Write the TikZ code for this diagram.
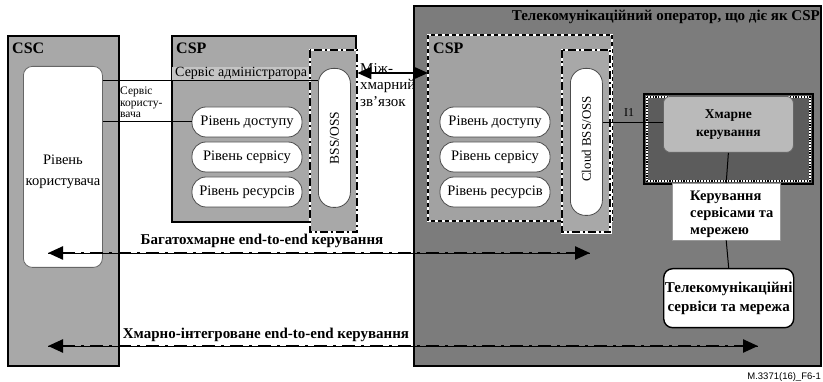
\documentclass[tikz,border=0pt]{standalone}
\usepackage{fontspec}
\setmainfont{Liberation Serif}
\newfontfamily\footfont{Liberation Sans}
\usetikzlibrary{arrows.meta,calc}
\definecolor{panelgray}{HTML}{A8A8A8}
\definecolor{opgray}{HTML}{7C7C7C}
\definecolor{innergray}{HTML}{A2A2A2}
\definecolor{cmdark}{HTML}{5C5C5C}
\definecolor{cmlight}{HTML}{BABABA}
\definecolor{bandgray}{HTML}{C4C4C4}
\tikzset{
  frame/.style={draw=black, line width=1.6pt, fill=panelgray, anchor=north west, inner sep=0pt},
  pill/.style={draw=black!70, line width=0.8pt, fill=white, rounded corners=14pt,
    minimum width=110pt, minimum height=30pt, inner sep=0pt, font=\fontsize{14.5}{14.5}\selectfont},
  vpill/.style={draw=black!70, line width=0.8pt, fill=white, rounded corners=15pt, inner sep=0pt,
    anchor=north west},
  dashdotbox/.style={fill=panelgray, anchor=north west, inner sep=0pt},
  ddborder/.style={draw=black, line width=2pt, dash pattern=on 8pt off 3pt on 2pt off 3pt},
  whiteedge/.style={draw=white, line width=2.4pt},
  lbl/.style={font=\bfseries\fontsize{16}{16}\selectfont, anchor=west, inner sep=0pt},
  link/.style={draw=black, line width=1pt},
  bigarrow/.style={line width=2.4pt, dash pattern=on 13pt off 6pt on 3pt off 6pt,
    {Triangle[length=15pt,width=13pt]}-{Triangle[length=15pt,width=13pt]}},
  thinline/.style={draw=black, line width=0.7pt},
}
\begin{document}
\begin{tikzpicture}[x=1pt,y=-1pt]
\useasboundingbox (0,0) rectangle (823,382);
\fill[white] (0,0) rectangle (823,382);

% ---------- consumer side ----------
\node[frame, minimum width=111pt, minimum height=330pt] (csc) at (7,35) {};
\node[lbl] (csclbl) at (12,48) {CSC};
\node[draw=black!60, line width=0.8pt, fill=white, rounded corners=9pt, anchor=north west,
      minimum width=79pt, minimum height=201pt, inner sep=0pt] (user) at (23,66) {};
\node[align=center, inner sep=0pt, font=\fontsize{14.5}{21}\selectfont] (userlbl)
      at (63,172) {Рівень\\користувача};

% ---------- left provider ----------
\node[frame, minimum width=184pt, minimum height=186pt] (csp) at (171,35) {};
\node[lbl] (csplbl) at (176,48) {CSP};
\node[fill=bandgray, anchor=north west, minimum width=138pt, minimum height=13pt, inner sep=0pt,
      font=\fontsize{14}{14}\selectfont] (admin) at (172,67) {Сервіс адміністратора};
\node[pill] (acc) at (247,122) {Рівень доступу};
\node[pill] (srv) at (247,157) {Рівень сервісу};
\node[pill] (res) at (247,192) {Рівень ресурсів};

\node[dashdotbox, minimum width=47pt, minimum height=182pt] (bss) at (310,50) {};
\draw[whiteedge] (bss.north west) rectangle (bss.south east);
\draw[ddborder] (bss.north west) rectangle (bss.south east);
\node[vpill, minimum width=32pt, minimum height=139pt] (bsspill) at (318,68) {};
\node[rotate=90, font=\fontsize{13.5}{13.5}\selectfont] (bsstxt) at (bsspill.center) {BSS/OSS};

% consumer-to-provider links
\draw[link] (user.east |- 0,81) -- (bsspill.west |- 0,81);
\draw[link] (user.east |- acc.west) -- (acc.west);
\node[anchor=north west, align=left, inner sep=0pt,
      font=\fontsize{11.5}{11.5}\selectfont] (usrsvc) at (120,87) {Сервіс\\користу-\\вача};

% ---------- operator ----------
\node[frame, fill=opgray, minimum width=407pt, minimum height=360pt] (op) at (413,5) {};
\node[font=\bfseries\fontsize{15}{15}\selectfont, anchor=north east, inner sep=0pt] (optitle)
      at (820,10) {Телекомунікаційний оператор, що діє як CSP};

\node[fill=innergray, anchor=north west, minimum width=184pt, minimum height=186pt, inner sep=0pt] (csp2) at (428,35) {};
\draw[draw=white, line width=2pt] (csp2.north west) rectangle (csp2.south east);
\draw[draw=black, line width=2pt, dash pattern=on 4pt off 3pt] (csp2.north west) rectangle (csp2.south east);
\node[lbl] (csp2lbl) at (433,48) {CSP};
\node[pill] (acc2) at (495,122) {Рівень доступу};
\node[pill] (srv2) at (495,157) {Рівень сервісу};
\node[pill] (res2) at (495,192) {Рівень ресурсів};

\node[dashdotbox, minimum width=48pt, minimum height=182pt] (bss2) at (562,50) {};
\draw[whiteedge] (bss2.north west) rectangle (bss2.south east);
\draw[ddborder] (bss2.north west) rectangle (bss2.south east);
\node[vpill, minimum width=32pt, minimum height=147pt] (bss2pill) at (570,68) {};
\node[rotate=90, font=\fontsize{13}{13}\selectfont] (bss2txt) at ($(bss2pill.center)+(0,-3)$) {Cloud BSS/OSS};

% inter-cloud link
\draw[line width=2pt, {Triangle[length=14pt,width=12pt]}-{Triangle[length=14pt,width=12pt]}]
     (bss.east |- 0,73) -- (csp2.west |- 0,73);
\node[anchor=north west, align=left, inner sep=0pt,
      font=\fontsize{15}{16.5}\selectfont] (icl) at (360,63) {Між-\\хмарний\\зв'язок};

% cloud management block
\node[draw=black, line width=2pt, fill=cmdark, anchor=north west, minimum width=169pt,
      minimum height=90pt, inner sep=0pt] (cm) at (643,93) {};
\draw[draw=white, line width=2.6pt] ($(cm.north west)+(4,4)$) rectangle ($(cm.south east)+(-4,-4)$);
\draw[draw=black, line width=2pt, dash pattern=on 1.2pt off 1.6pt] ($(cm.north west)+(4,4)$) rectangle ($(cm.south east)+(-4,-4)$);
\node[draw=black!60, line width=0.8pt, fill=cmlight, rounded corners=7pt, anchor=north west,
      minimum width=130pt, minimum height=56pt, inner sep=0pt, align=center,
      font=\bfseries\fontsize{13.5}{18}\selectfont] (cmin) at (663,96) {Хмарне\\керування};

\draw[link] (bss2pill.east |- 0,123) -- (cmin.west |- 0,123);
\node[font=\fontsize{12}{12}\selectfont, inner sep=0pt] (ione) at (629,113) {I1};

\node[draw=black!40, fill=white, anchor=north west, minimum width=108pt, minimum height=57pt,
      inner sep=0pt] (svc) at (672,183) {};
\node[anchor=west, align=left, inner sep=0pt,
      font=\bfseries\fontsize{14.5}{17}\selectfont] (svclbl) at (690,214) {Керування\\сервісами та\\мережею};
\node[draw=black, line width=1.4pt, fill=white, rounded corners=9pt, anchor=north west,
      minimum width=130pt, minimum height=59pt, inner sep=0pt, align=center,
      font=\bfseries\fontsize{15}{19}\selectfont] (tel) at (663,268) {Телекомунікаційні\\сервіси та мережа};

\draw[link] (cmin.south) -- (svc.north);
\draw[link] (svc.south) -- (tel.north);

% end-to-end management arrows
\coordinate (m1) at (48,253);
\coordinate (m2) at (590,253);
\coordinate (n1) at (48,346);
\coordinate (n2) at (758,346);
\draw[thinline] (m1) -- (m2);
\draw[bigarrow] (m1) -- (m2);
\node[font=\bfseries\fontsize{15}{15}\selectfont, inner sep=0pt] (mlbl) at (262,241) {Багатохмарне end-to-end керування};
\draw[thinline] (n1) -- (n2);
\draw[bigarrow] (n1) -- (n2);
\node[font=\bfseries\fontsize{15}{15}\selectfont, inner sep=0pt] (nlbl) at (266,335) {Хмарно-інтегроване end-to-end керування};

\node[font=\footfont\fontsize{9.5}{9.5}\selectfont, anchor=east, inner sep=0pt] (fig) at (821,377) {M.3371(16)\_F6-1};
\end{tikzpicture}
\end{document}
